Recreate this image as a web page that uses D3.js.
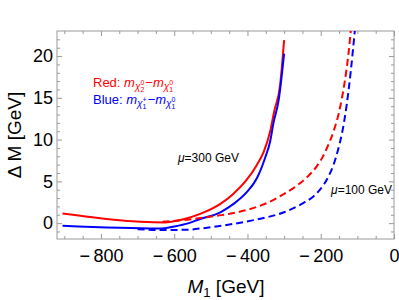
<!DOCTYPE html>
<html>
<head>
<meta charset="utf-8">
<script src="https://cdn.jsdelivr.net/npm/d3@7"></script>
<style>
  html, body { margin: 0; padding: 0; background: #fff; }
  svg { display: block; font-family: "Liberation Sans", Arial, sans-serif; }
</style>
</head>
<body>
<div id="chart"></div>
<script>
// M1 [GeV] and Delta M [GeV]
const redSolidM1 = [-905, -625, -580, -529, -474, -439, -402, -374, -356, -338, -327, -311, -300];
const redSolidDM = [1.15, 0.08, 0.4, 1.1, 2.3, 3.5, 5.2, 7.0, 8.5, 11.0, 13.4, 16.5, 21.9];

const blueSolidM1 = [-905, -640, -600, -560, -529, -474, -438, -402, -374, -352, -338, -329, -315, -300];
const blueSolidDM = [-0.32, -0.65, -0.4, 0.0, 0.5, 1.3, 2.3, 3.7, 5.4, 7.8, 9.8, 12.0, 14.7, 20.3];

const redDashM1 = [-632, -580, -529, -480, -438, -400, -347, -300, -265, -235, -211, -195, -184, -165, -150, -135, -125, -117];
const redDashDM = [0.15, 0.35, 0.6, 0.9, 1.2, 1.6, 2.4, 3.5, 4.5, 5.6, 6.8, 7.9, 8.9, 11.0, 13.3, 16.8, 20.0, 23.5];

const blueDashM1 = [-700, -640, -570, -520, -440, -390, -347, -300, -256, -220, -202, -180, -165, -152, -140, -129, -118, -106];
const blueDashDM = [-0.72, -0.82, -0.8, -0.6, -0.1, 0.3, 0.7, 1.3, 2.2, 3.2, 4.0, 5.5, 7.0, 8.9, 11.2, 14.2, 18.2, 23.5];

const xMajorTicks = [-800, -600, -400, -200, 0];
const yMajorTicks = [0, 5, 10, 15, 20];

const W = 399, H = 300;
const plotL = 57, plotR = 394, plotT = 31, plotB = 239;

const svg = d3.select("#chart").append("svg")
  .attr("width", W).attr("height", H);

const x = d3.scaleLinear().domain([-920, 0]).range([plotL, plotR]);
const y = d3.scaleLinear().domain([-1.9, 23]).range([plotB, plotT]);

const frameColor = "#9a9a9a";
const minus = s => s.replace("-", "\u2212\u2009");

// minor ticks
const xMinor = d3.range(-900, 1, 50).filter(v => !xMajorTicks.includes(v));
const yMinor = d3.range(-1, 23, 1).filter(v => !yMajorTicks.includes(v));

function styleAxis(g) {
  g.select(".domain").remove();
  g.selectAll(".tick line").attr("stroke", frameColor);
  g.selectAll(".tick text").attr("fill", "#000").attr("font-size", 18)
    .attr("font-family", "Liberation Sans, Arial, sans-serif");
}

// bottom
svg.append("g").attr("transform", `translate(0,${plotB})`)
  .call(d3.axisBottom(x).tickValues(xMajorTicks).tickSize(-5).tickPadding(10)
    .tickFormat(d => minus(String(d))))
  .call(styleAxis);
svg.append("g").attr("transform", `translate(0,${plotB})`)
  .call(d3.axisBottom(x).tickValues(xMinor).tickSize(-3).tickFormat(""))
  .call(styleAxis);
// top
svg.append("g").attr("transform", `translate(0,${plotT})`)
  .call(d3.axisTop(x).tickValues(xMajorTicks).tickSize(-5).tickFormat(""))
  .call(styleAxis);
svg.append("g").attr("transform", `translate(0,${plotT})`)
  .call(d3.axisTop(x).tickValues(xMinor).tickSize(-3).tickFormat(""))
  .call(styleAxis);
// left
svg.append("g").attr("transform", `translate(${plotL},0)`)
  .call(d3.axisLeft(y).tickValues(yMajorTicks).tickSize(-5).tickPadding(4))
  .call(styleAxis);
svg.append("g").attr("transform", `translate(${plotL},0)`)
  .call(d3.axisLeft(y).tickValues(yMinor).tickSize(-3).tickFormat(""))
  .call(styleAxis);
// right
svg.append("g").attr("transform", `translate(${plotR},0)`)
  .call(d3.axisRight(y).tickValues(yMajorTicks).tickSize(-5).tickFormat(""))
  .call(styleAxis);
svg.append("g").attr("transform", `translate(${plotR},0)`)
  .call(d3.axisRight(y).tickValues(yMinor).tickSize(-3).tickFormat(""))
  .call(styleAxis);

// frame
svg.append("rect")
  .attr("x", plotL).attr("y", plotT)
  .attr("width", plotR - plotL).attr("height", plotB - plotT)
  .attr("fill", "none").attr("stroke", frameColor).attr("stroke-width", 1);

// curves
svg.append("clipPath").attr("id", "plotClip")
  .append("rect").attr("x", plotL).attr("y", plotT)
  .attr("width", plotR - plotL).attr("height", plotB - plotT);

const line = d3.line()
  .x(d => x(d[0]))
  .y(d => y(d[1]))
  .curve(d3.curveMonotoneX);

const series = [
  { m1: redSolidM1, dm: redSolidDM, color: "#ff0000", dash: null },
  { m1: blueSolidM1, dm: blueSolidDM, color: "#0000ff", dash: null },
  { m1: redDashM1, dm: redDashDM, color: "#ff0000", dash: "7,4" },
  { m1: blueDashM1, dm: blueDashDM, color: "#0000ff", dash: "7,4" }
];

const plot = svg.append("g").attr("clip-path", "url(#plotClip)");
series.forEach(s => {
  plot.append("path")
    .datum(d3.zip(s.m1, s.dm))
    .attr("fill", "none")
    .attr("stroke", s.color)
    .attr("stroke-width", 2)
    .attr("stroke-dasharray", s.dash)
    .attr("d", line);
});

// curve labels
function muLabel(tx, ty, anchor, value) {
  const t = svg.append("text").attr("x", tx).attr("y", ty)
    .attr("font-size", 12).attr("text-anchor", anchor).attr("fill", "#000");
  t.append("tspan").attr("font-style", "italic").text("\u03bc");
  t.append("tspan").text("=" + value + " GeV");
}
muLabel(178, 162, "start", 300);
muLabel(392, 194, "end", 100);

// legend: Red / Blue mass splittings
function legendLine(ty, color, word, firstSup, firstSub) {
  const t = svg.append("text").attr("x", 93).attr("y", ty)
    .attr("font-size", 13).attr("fill", color);
  t.append("tspan").text(word + ": ");
  const chi = (sub, sup) => {
    t.append("tspan").attr("font-style", "italic").text("m");
    t.append("tspan").attr("font-style", "italic").attr("font-size", 10).attr("dy", 3).text("\u03c7");
    t.append("tspan").attr("font-size", 7).attr("dy", 2).text(sub);
    t.append("tspan").attr("font-size", 7).attr("dx", -3.9).attr("dy", -7.5).text(sup);
  };
  chi(firstSub, firstSup);
  t.append("tspan").attr("dy", 2.5).attr("dx", 1).text("\u2212");
  chi("1", "0");
}
legendLine(87, "#ff0000", "Red", "0", "2");
legendLine(104, "#0000ff", "Blue", "+", "1");

// axis titles
const xt = svg.append("text").attr("x", 226).attr("y", 293)
  .attr("text-anchor", "middle").attr("font-size", 19).attr("fill", "#000");
xt.append("tspan").attr("font-style", "italic").text("M");
xt.append("tspan").attr("font-size", 13).attr("dy", 4).text("1");
xt.append("tspan").attr("dy", -4).text(" [GeV]");

svg.append("text")
  .attr("transform", "translate(21,135) rotate(-90)")
  .attr("text-anchor", "middle").attr("font-size", 19).attr("fill", "#000")
  .text("\u0394 M [GeV]");
</script>
</body>
</html>
